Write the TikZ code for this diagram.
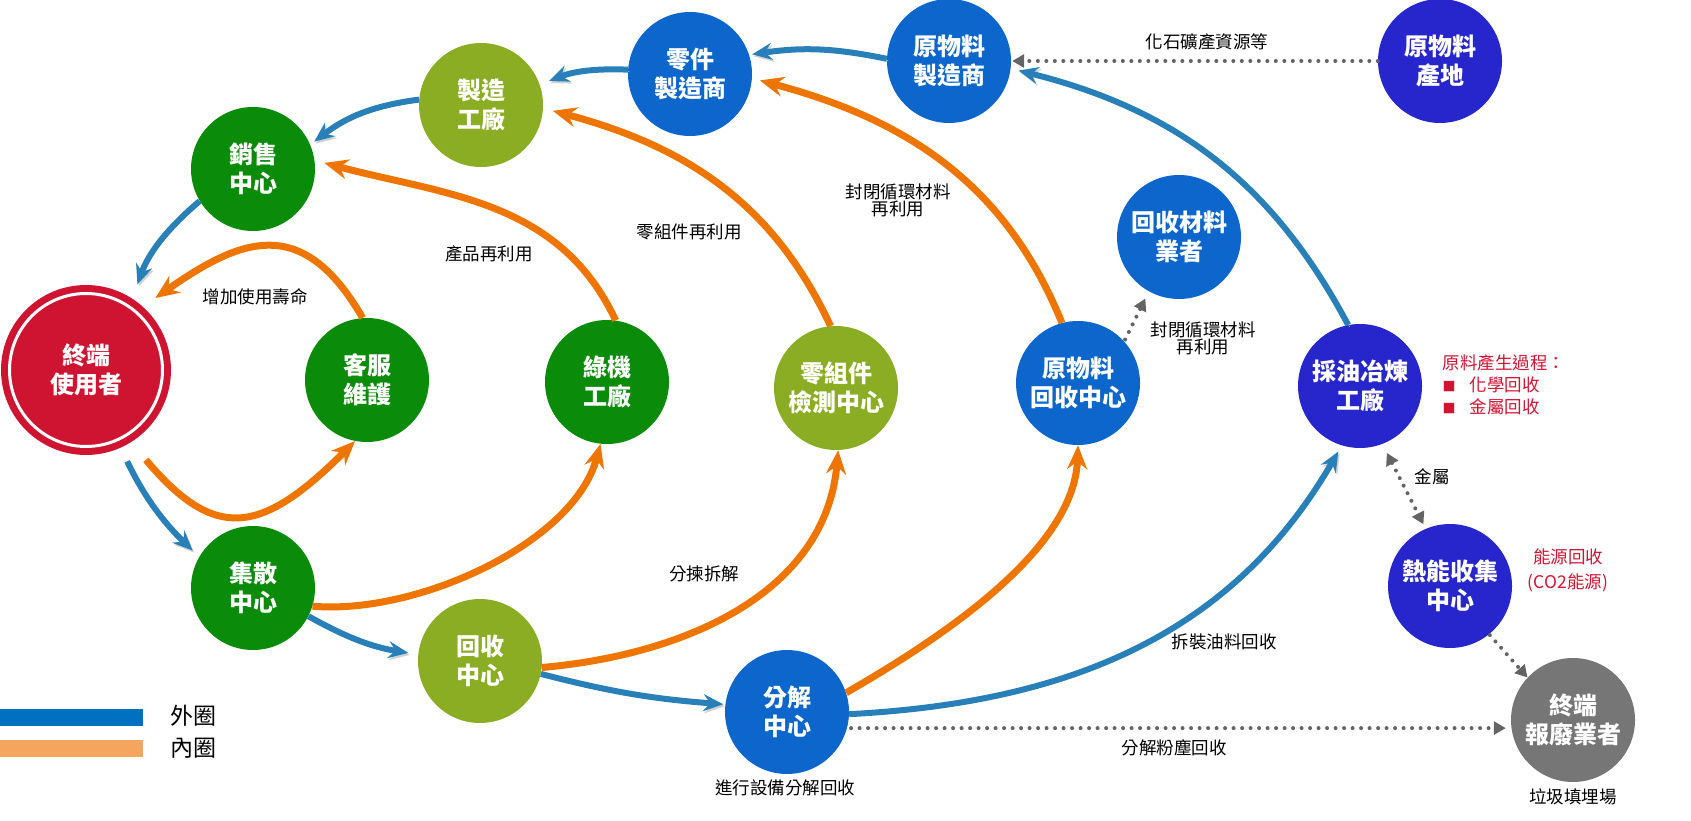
\documentclass[tikz,border=0pt]{standalone}
\usepackage{fontspec}
\setmainfont{Noto Sans CJK TC}
\usetikzlibrary{arrows.meta,calc}
\definecolor{cDG}{RGB}{10,140,10}
\definecolor{cOL}{RGB}{138,173,36}
\definecolor{cBL}{RGB}{12,102,204}
\definecolor{cIN}{RGB}{38,38,204}
\definecolor{cRD}{RGB}{206,20,48}
\definecolor{cGY}{RGB}{118,118,118}
\definecolor{aBL}{RGB}{41,128,185}
\definecolor{aOR}{RGB}{238,118,0}
\definecolor{lBL}{RGB}{0,112,192}
\definecolor{lOR}{RGB}{244,166,94}
\definecolor{dGY}{RGB}{100,100,100}
\definecolor{tRD}{RGB}{210,20,50}
\tikzset{dtip/.tip={Triangle[length=12pt,width=13pt]}}
\begin{document}
\begin{tikzpicture}[x=1pt,y=1pt,
  cnode/.style={circle, minimum size=124pt, inner sep=0pt, text=white,
    font=\bfseries\fontsize{24}{29}\selectfont, align=center},
  bl/.style={draw=aBL, line width=6pt,
    -{Stealth[length=20pt,width=17pt,inset=7pt]},
    preaction={draw=black!18, transform canvas={xshift=1.5pt,yshift=-2pt}}},
  orr/.style={draw=aOR, line width=7pt, -{Stealth[length=24pt,width=20pt,inset=8pt]}},
  dt/.style={draw=dGY, line width=4pt, line cap=round, dash pattern=on 0pt off 8.5pt},
  lb/.style={font=\fontsize{17.5}{17}\selectfont, align=center, text=black},
  rlb/.style={font=\fontsize{17.5}{22}\selectfont, text=tRD},
]
\useasboundingbox (0,0) rectangle (1691,820);

% nodes
\node[cnode, fill=cRD, minimum size=170pt] (eu) at (86,450) {終端\\使用者};
\draw[white, line width=3pt] (eu.center) circle (76.5pt);
\node[cnode, fill=cDG] (kf) at (367,440) {客服\\維護};
\node[cnode, fill=cDG] (xs) at (253,651) {銷售\\中心};
\node[cnode, fill=cOL] (zz) at (481,715) {製造\\工廠};
\node[cnode, fill=cBL] (lj) at (690,746) {零件\\製造商};
\node[cnode, fill=cBL] (ym) at (949,759) {原物料\\製造商};
\node[cnode, fill=cIN] (yd) at (1440,759) {原物料\\產地};
\node[cnode, fill=cBL] (hc) at (1179,583) {回收材料\\業者};
\node[cnode, fill=cBL] (yh) at (1078,437) {原物料\\回收中心};
\node[cnode, fill=cIN] (cy) at (1360,434) {採油冶煉\\工廠};
\node[cnode, fill=cIN] (rn) at (1450,234) {熱能收集\\中心};
\node[cnode, fill=cGY] (bf) at (1573,100) {終端\\報廢業者};
\node[cnode, fill=cBL] (fj) at (787,108) {分解\\中心};
\node[cnode, fill=cOL] (hs) at (480,159) {回收\\中心};
\node[cnode, fill=cDG] (js) at (253,232) {集散\\中心};
\node[cnode, fill=cDG] (lv) at (607,438) {綠機\\工廠};
\node[cnode, fill=cOL] (jc) at (836,432) {零組件\\檢測中心};

% outer (blue) circle
\draw[bl, shorten >=10pt] (lj.176) to[bend right=12] (zz.19);
\draw[bl, shorten >=5pt] (zz.175) to[bend right=15] (xs.23);
\draw[bl, shorten >=15pt] (xs.211) to[bend right=15] (eu.57);
\draw[bl, shorten <=15pt, shorten >=9pt] (eu.294) to[bend right=10] (js.150);
\draw[bl, shorten >=10pt] (js.333) to[bend right=10] (hs.174);
\draw[bl, shorten >=2pt] (hs.348) to[bend right=5] (fj.173);
\draw[bl, shorten >=7pt] (fj.358) to[out=3, in=240] (cy.253);
\draw[bl, shorten >=8pt] (cy.101) to[out=118, in=-14] (ym.353);
\draw[bl, shorten >=3pt] (ym.178) to[bend right=10] (lj.18);

% inner (orange) circle
\draw[orr, shorten >=15pt] (kf.94) to[out=120, in=35, looseness=1.4] (eu.48);
\draw[orr, shorten <=23pt] (eu.302) to[out=-50, in=225, looseness=1.5] (kf.259);
\draw[orr, shorten >=10pt] (lv.82) to[out=115, in=-15] (xs.8);
\draw[orr] (js.343) to[out=-5, in=255, looseness=0.8] (lv.264);
\draw[orr, shorten >=10pt] (jc.95) to[out=115, in=-15] (zz.357);
\draw[orr] (hs.354) to[out=5, in=265] (jc.272);
\draw[orr, shorten >=8pt] (yh.105) to[out=112, in=-15] (lj.356);
\draw[orr] (fj.18) to[out=30, in=268, looseness=0.8] (yh.270);

% dotted connectors
\draw[dt, -{dtip}, shorten >=1pt] (yd.west) -- (ym.east);
\draw[dt, -{dtip}, shorten >=8pt, shorten <=2pt] (yh.42) -- (hc.241);
\draw[dt, {dtip}-{dtip}, shorten >=5pt, shorten <=10pt] (cy.291) -- (rn.113);
\draw[dt, -{dtip}, shorten <=1pt] (rn.309) -- (bf.137);
\draw[dt, -{dtip}, shorten <=4pt, shorten >=5pt] (fj.345) -- (bf.west |- fj.345);

% labels
\node[lb] (t1) at (255,523) {增加使用壽命};
\node[lb] (t2) at (489,566) {產品再利用};
\node[lb] (t3) at (689,588) {零組件再利用};
\node[lb] (t4) at (898,620) {封閉循環材料\\再利用};
\node[lb] (t5) at (1203,482) {封閉循環材料\\再利用};
\node[lb] (t6) at (1207,778) {化石礦產資源等};
\node[lb] (t7) at (1432,343) {金屬};
\node[lb] (t8) at (704,246) {分揀拆解};
\node[lb] (t9) at (1224,178) {拆裝油料回收};
\node[lb] (t10) at (1174,72) {分解粉塵回收};
\node[lb] (t11) at (785,32) {進行設備分解回收};
\node[lb] (t12) at (1573,23) {垃圾填埋場};
\node[rlb, anchor=west, align=left] (r1) at (1439,435)
  {原料產生過程：\\{\fontsize{13}{13}\selectfont ■}\hspace{14pt}化學回收\\{\fontsize{13}{13}\selectfont ■}\hspace{14pt}金屬回收};
\node[rlb, align=center, font=\fontsize{17.5}{25}\selectfont] (r2) at (1568,250) {能源回收\\(CO2能源)};

% legend
\node[fill=lBL, minimum width=143pt, minimum height=17pt, inner sep=0pt, anchor=west] (lg1) at (0,102.5) {};
\node[fill=lOR, minimum width=143pt, minimum height=17pt, inner sep=0pt, anchor=west] (lg2) at (0,71.5) {};
\node[font=\fontsize{23}{23}\selectfont, anchor=west, inner sep=0pt] (lt1) at (170,104) {外圈};
\node[font=\fontsize{23}{23}\selectfont, anchor=west, inner sep=0pt] (lt2) at (170,72) {內圈};
\end{tikzpicture}
\end{document}
